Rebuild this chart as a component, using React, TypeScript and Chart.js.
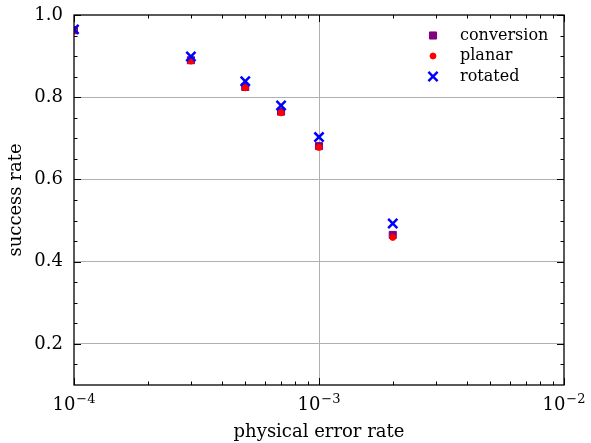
import React, { useEffect, useRef } from "react";
import { Chart, registerables } from "chart.js";

Chart.register(...registerables);

// ---- data ----
const errorRates = [1e-4, 3e-4, 5e-4, 7e-4, 1e-3, 2e-3];
const conversion = [0.963, 0.89, 0.825, 0.765, 0.681, 0.465];
const planar = [0.962, 0.888, 0.823, 0.762, 0.678, 0.459];
const rotated = [0.965, 0.899, 0.839, 0.78, 0.703, 0.493];
const seriesNames = ["conversion", "planar", "rotated"];
const xTickExponents = [-4, -3, -2];
const yTickValues = [0.2, 0.4, 0.6, 0.8, 1.0];

const SERIF = "'DejaVu Serif', serif";
const GRID = "#b0b0b0";

const toPoints = (ys: number[]) => errorRates.map((x, i) => ({ x, y: ys[i] }));

function drawMarker(ctx: CanvasRenderingContext2D, style: string, r: number, x: number, y: number) {
  ctx.beginPath();
  if (style === "rect") {
    const s = r * Math.SQRT1_2;
    ctx.rect(x - s, y - s, 2 * s, 2 * s);
    ctx.fill();
    ctx.stroke();
  } else if (style === "circle") {
    ctx.arc(x, y, r, 0, Math.PI * 2);
    ctx.fill();
    ctx.stroke();
  } else {
    const d = r * Math.SQRT1_2;
    ctx.moveTo(x - d, y - d);
    ctx.lineTo(x + d, y + d);
    ctx.moveTo(x - d, y + d);
    ctx.lineTo(x + d, y - d);
    ctx.stroke();
  }
}

const framePlugin = {
  id: "frame",
  afterDraw(chart: any) {
    const { ctx, chartArea: a, scales } = chart;
    const xs = scales.x;
    const ys = scales.y;
    ctx.save();
    ctx.strokeStyle = "#000";
    const major = 7;
    const minor = 3.5;
    ctx.lineWidth = 1;
    const hLine = (py: number, len: number) => {
      ctx.beginPath();
      ctx.moveTo(a.left, py);
      ctx.lineTo(a.left + len, py);
      ctx.moveTo(a.right, py);
      ctx.lineTo(a.right - len, py);
      ctx.stroke();
    };
    const vLine = (px: number, len: number) => {
      ctx.beginPath();
      ctx.moveTo(px, a.bottom);
      ctx.lineTo(px, a.bottom - len);
      ctx.moveTo(px, a.top);
      ctx.lineTo(px, a.top + len);
      ctx.stroke();
    };
    yTickValues.forEach((v) => hLine(Math.round(ys.getPixelForValue(v)) + 0.5, major));
    for (let i = 3; i < 20; i++) {
      if (i % 4 === 0) continue;
      hLine(Math.round(ys.getPixelForValue(i * 0.05)) + 0.5, minor);
    }
    xTickExponents.forEach((e) => vLine(Math.round(xs.getPixelForValue(Math.pow(10, e))) + 0.5, major));
    for (let e = -4; e < -2; e++) {
      for (let k = 2; k <= 9; k++) {
        vLine(Math.round(xs.getPixelForValue(k * Math.pow(10, e))) + 0.5, minor);
      }
    }
    ctx.lineWidth = 1.3;
    ctx.strokeRect(a.left, a.top, a.right - a.left, a.bottom - a.top);

    // x tick labels 10^e
    ctx.fillStyle = "#000";
    ctx.textBaseline = "alphabetic";
    ctx.textAlign = "left";
    xTickExponents.forEach((e) => {
      const px = xs.getPixelForValue(Math.pow(10, e));
      const base = "10";
      const exp = "\u2212" + Math.abs(e);
      ctx.font = `18px ${SERIF}`;
      const wb = ctx.measureText(base).width;
      ctx.font = `13px ${SERIF}`;
      const we = ctx.measureText(exp).width;
      const start = px - (wb + we + 1) / 2;
      ctx.font = `18px ${SERIF}`;
      ctx.fillText(base, start, a.bottom + 25);
      ctx.font = `13px ${SERIF}`;
      ctx.fillText(exp, start + wb + 1, a.bottom + 18);
    });

    // legend
    const dss = chart.data.datasets;
    ctx.font = `16px ${SERIF}`;
    ctx.textBaseline = "middle";
    [0, 1, 2].forEach((di, row) => {
      const ds = dss[di];
      const cy = a.top + 20.5 + row * 20.5;
      const cx = a.right - 131;
      ctx.strokeStyle = ds.borderColor;
      ctx.fillStyle = ds.backgroundColor;
      ctx.lineWidth = ds.borderWidth;
      drawMarker(ctx, ds.pointStyle, ds.pointRadius, cx, cy);
      ctx.fillStyle = "#000";
      ctx.fillText(seriesNames[di], a.right - 104, cy);
    });
    ctx.restore();
  },
};

export default function App() {
  const ref = useRef<HTMLCanvasElement | null>(null);
  useEffect(() => {
    if (!ref.current) return;
    const chart = new Chart(ref.current, {
      type: "scatter",
      data: {
        datasets: [
          {
            label: seriesNames[0],
            data: toPoints(conversion),
            pointStyle: "rect",
            pointRadius: 5,
            borderWidth: 1,
            backgroundColor: "#800080",
            borderColor: "#800080",
            order: 3,
            clip: 0,
          },
          {
            label: seriesNames[1],
            data: toPoints(planar),
            pointStyle: "circle",
            pointRadius: 3,
            borderWidth: 1,
            backgroundColor: "#ff0000",
            borderColor: "#ff0000",
            order: 2,
            clip: 0,
          },
          {
            label: seriesNames[2],
            data: toPoints(rotated),
            pointStyle: "crossRot",
            pointRadius: 6.5,
            borderWidth: 2.5,
            backgroundColor: "#0000ff",
            borderColor: "#0000ff",
            order: 1,
            clip: 0,
          },
        ],
      },
      options: {
        responsive: false,
        animation: false,
        devicePixelRatio: 1,
        layout: { padding: { top: 15, right: 27, left: 0, bottom: 0 } },
        plugins: { legend: { display: false }, tooltip: { enabled: false } },
        scales: {
          x: {
            type: "logarithmic",
            min: 1e-4,
            max: 1e-2,
            afterBuildTicks: (s: any) => {
              s.ticks = xTickExponents.map((e) => ({ value: Math.pow(10, e), major: true }));
            },
            afterFit: (s: any) => {
              s.height = 58;
              s.paddingLeft = 0;
              s.paddingRight = 0;
            },
            ticks: { display: false },
            grid: {
              drawTicks: false,
              color: (c: any) => (c.tick && Math.abs(c.tick.value - 1e-3) < 1e-9 ? GRID : "rgba(0,0,0,0)"),
              lineWidth: 1,
            },
            border: { display: false },
            title: {
              display: true,
              text: "physical error rate",
              color: "#000",
              font: { family: SERIF, size: 18 },
              padding: 0,
            },
          },
          y: {
            type: "linear",
            min: 0.1,
            max: 1.0,
            afterBuildTicks: (s: any) => {
              s.ticks = yTickValues.map((v) => ({ value: v }));
            },
            afterFit: (s: any) => {
              s.width = 74;
              s.paddingTop = 0;
              s.paddingBottom = 0;
            },
            ticks: {
              color: "#000",
              font: { family: SERIF, size: 18 },
              padding: 11,
              callback: (v: any) => Number(v).toFixed(1),
            },
            grid: {
              drawTicks: false,
              color: (c: any) => (c.tick && c.tick.value < 0.95 ? GRID : "rgba(0,0,0,0)"),
              lineWidth: 1,
            },
            border: { display: false },
            title: {
              display: true,
              text: "success rate",
              color: "#000",
              font: { family: SERIF, size: 18 },
              padding: 6,
            },
          },
        },
      },
      plugins: [framePlugin],
    } as any);
    return () => chart.destroy();
  }, []);
  return (
    <div style={{ position: "absolute", left: 0, top: 0, width: 591, height: 443, background: "#fff" }}>
      <canvas ref={ref} width={591} height={443} style={{ width: 591, height: 443, display: "block" }} />
    </div>
  );
}
